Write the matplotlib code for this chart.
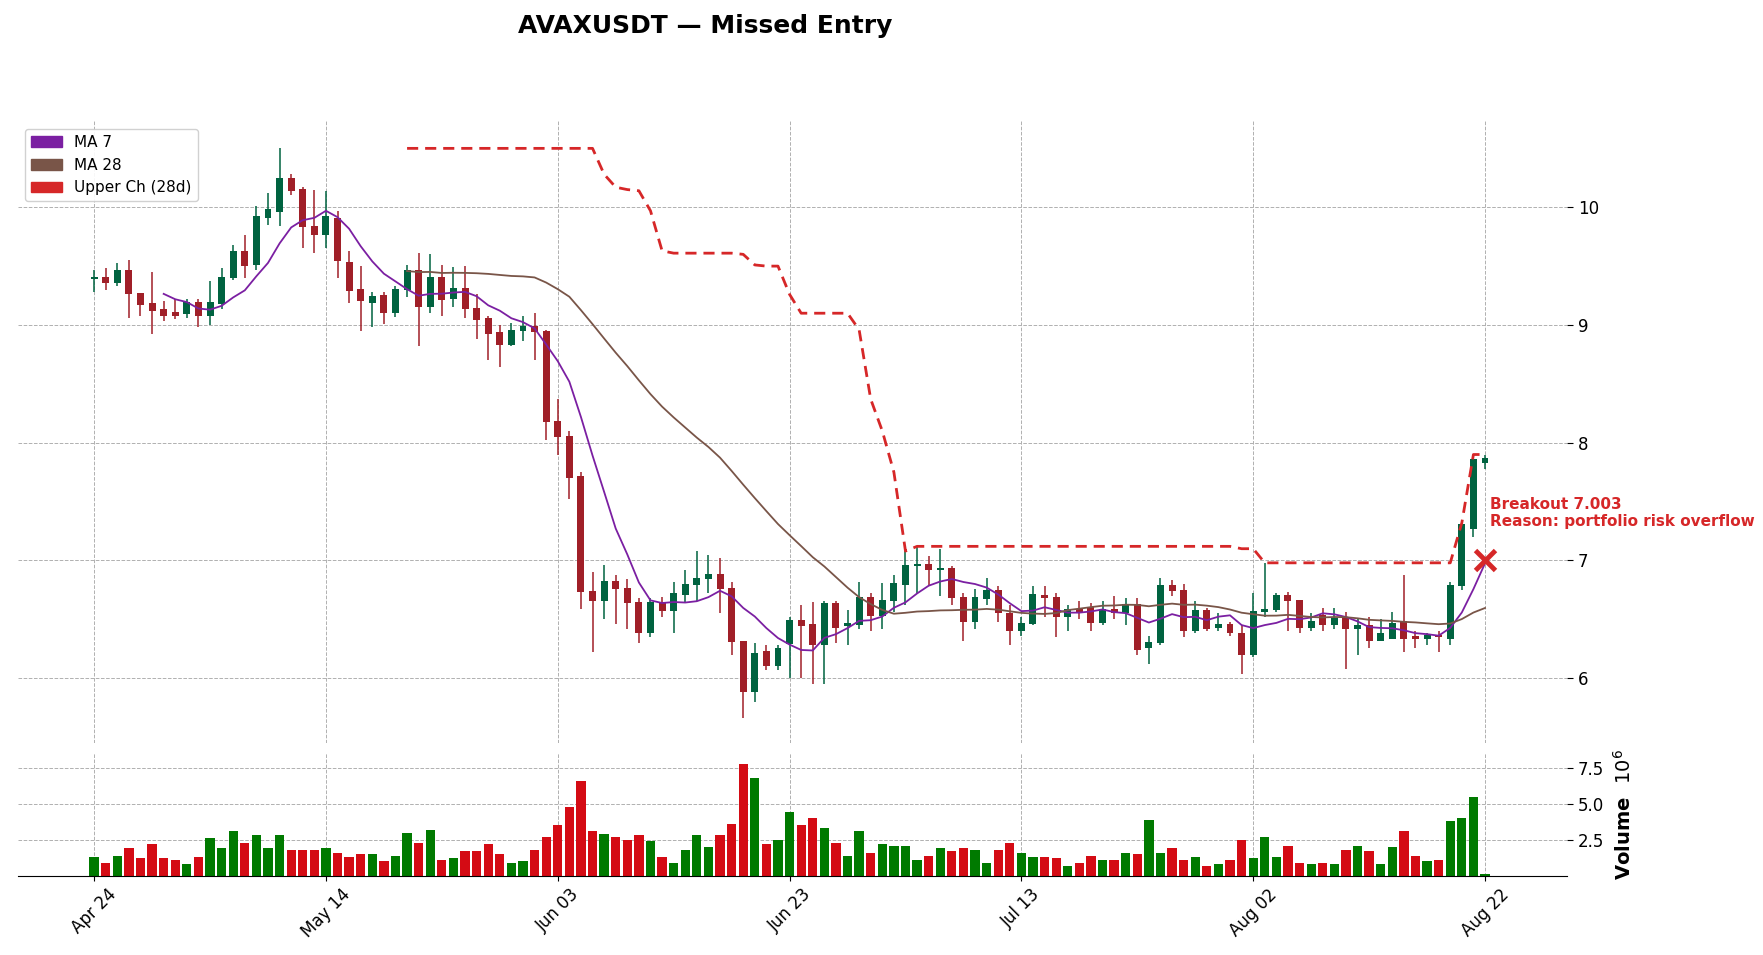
import matplotlib
matplotlib.use("Agg")
import matplotlib.pyplot as plt
import matplotlib.patches as mpatches
import numpy as np
import pandas as pd

dates = pd.date_range("2024-04-24", "2024-08-22", freq="D")
opens = [9.39,9.40,9.36,9.46,9.26,9.18,9.13,9.10,9.09,9.19,9.08,9.18,9.40,9.62,9.51,9.91,9.96,10.24,10.15,9.83,
 9.76,9.90,9.53,9.30,9.19,9.25,9.10,9.30,9.46,9.15,9.40,9.22,9.31,9.14,9.05,8.93,8.83,8.95,8.98,8.94,
 8.18,8.05,7.71,6.73,6.66,6.82,6.76,6.64,6.38,6.64,6.57,6.71,6.79,6.84,6.88,6.76,6.31,5.88,6.22,6.10,
 6.29,6.49,6.45,6.28,6.63,6.44,6.45,6.68,6.53,6.66,6.79,6.95,6.96,6.92,6.93,6.68,6.48,6.67,6.74,6.55,
 6.40,6.46,6.70,6.68,6.52,6.58,6.60,6.47,6.58,6.55,6.62,6.26,6.30,6.78,6.74,6.40,6.57,6.43,6.45,6.38,
 6.20,6.56,6.58,6.70,6.66,6.43,6.53,6.45,6.50,6.42,6.44,6.32,6.33,6.48,6.35,6.33,6.36,6.33,6.78,7.27,7.83]
closes = [9.40,9.36,9.46,9.26,9.17,9.12,9.08,9.08,9.19,9.08,9.19,9.40,9.62,9.50,9.92,9.98,10.24,10.14,9.83,9.76,
 9.92,9.54,9.29,9.20,9.24,9.10,9.30,9.46,9.15,9.40,9.21,9.31,9.14,9.04,8.92,8.83,8.95,8.98,8.94,8.18,
 8.05,7.70,6.73,6.66,6.82,6.76,6.64,6.38,6.64,6.57,6.72,6.79,6.84,6.88,6.76,6.31,5.88,6.21,6.10,6.25,
 6.49,6.44,6.28,6.63,6.43,6.46,6.68,6.53,6.66,6.80,6.95,6.96,6.92,6.93,6.68,6.48,6.68,6.74,6.55,6.40,
 6.46,6.71,6.68,6.52,6.58,6.55,6.47,6.58,6.55,6.62,6.24,6.30,6.78,6.74,6.40,6.57,6.42,6.45,6.38,6.20,
 6.56,6.58,6.70,6.66,6.43,6.48,6.45,6.50,6.42,6.44,6.32,6.38,6.46,6.33,6.33,6.36,6.35,6.78,7.30,7.85,7.86]
highs = [9.47,9.48,9.53,9.55,9.27,9.45,9.20,9.22,9.22,9.22,9.37,9.48,9.68,9.76,10.01,10.12,10.50,10.28,10.17,10.15,
 10.14,9.97,9.63,9.50,9.28,9.28,9.33,9.51,9.61,9.60,9.51,9.49,9.50,9.26,9.08,9.00,9.02,9.08,9.10,8.96,
 8.37,8.10,7.75,6.90,6.96,6.88,6.84,6.68,6.68,6.69,6.82,6.92,7.08,7.05,7.02,6.82,6.31,6.30,6.28,6.28,
 6.52,6.62,6.65,6.66,6.66,6.58,6.82,6.72,6.81,6.88,7.08,7.12,7.04,7.10,6.95,6.72,6.76,6.85,6.78,6.62,
 6.52,6.78,6.78,6.72,6.62,6.66,6.64,6.66,6.70,6.68,6.68,6.36,6.85,6.83,6.80,6.66,6.60,6.55,6.48,6.45,
 6.72,6.98,6.72,6.73,6.66,6.55,6.60,6.60,6.56,6.50,6.52,6.50,6.56,6.88,6.40,6.38,6.40,6.82,7.32,7.90,7.90]
lows = [9.28,9.30,9.33,9.06,9.08,8.92,9.03,9.05,9.06,8.98,9.00,9.14,9.38,9.40,9.47,9.85,9.84,10.10,9.65,9.61,
 9.65,9.40,9.19,8.95,8.98,9.01,9.07,9.24,8.82,9.10,9.08,9.15,9.06,8.88,8.70,8.64,8.82,8.86,8.70,8.02,
 7.90,7.52,6.59,6.22,6.50,6.46,6.42,6.30,6.35,6.52,6.38,6.65,6.66,6.72,6.55,6.20,5.66,5.80,6.07,6.07,
 6.00,6.00,5.95,5.95,6.30,6.28,6.42,6.40,6.42,6.56,6.62,6.72,6.78,6.70,6.62,6.32,6.42,6.62,6.48,6.28,
 6.36,6.45,6.52,6.35,6.40,6.50,6.40,6.45,6.50,6.45,6.20,6.12,6.28,6.70,6.35,6.38,6.40,6.40,6.36,6.04,
 6.18,6.52,6.56,6.40,6.38,6.40,6.40,6.42,6.08,6.20,6.26,6.32,6.35,6.22,6.26,6.28,6.22,6.28,6.75,7.20,7.78]
volumes_m = [1.3,0.9,1.4,1.9,1.2,2.2,1.2,1.1,0.8,1.3,2.6,1.9,3.1,2.3,2.8,1.9,2.8,1.8,1.8,1.8,
 1.9,1.6,1.3,1.5,1.5,1.0,1.4,3.0,2.3,3.2,1.1,1.2,1.7,1.7,2.2,1.5,0.9,1.0,1.8,2.7,
 3.5,4.8,6.6,3.1,2.9,2.7,2.5,2.8,2.4,1.3,0.9,1.8,2.8,2.0,2.8,3.6,7.8,6.8,2.2,2.5,
 4.4,3.5,4.0,3.3,2.3,1.4,3.1,1.6,2.2,2.1,2.1,1.1,1.4,1.9,1.7,1.9,1.8,0.9,1.8,2.3,
 1.6,1.3,1.3,1.2,0.7,0.9,1.4,1.1,1.1,1.6,1.5,3.9,1.6,1.9,1.1,1.3,0.7,0.8,1.1,2.5,
 1.2,2.7,1.3,2.1,0.9,0.8,0.9,0.8,1.8,2.1,1.7,0.8,2.0,3.1,1.4,1.0,1.1,3.8,4.0,5.5,0.1]
tick_labels = ["Apr 24", "May 14", "Jun 03", "Jun 23", "Jul 13", "Aug 02", "Aug 22"]
breakout_price = 7.003

O, C, H, L = map(np.array, (opens, closes, highs, lows))
V = np.array(volumes_m)
x = np.arange(len(dates))
ma7 = pd.Series(C).rolling(7).mean()
ma28 = pd.Series(C).rolling(28).mean()
upper = pd.Series(H).rolling(28).max()

UP, DN = "#006340", "#a01f28"
VUP, VDN = "#007a00", "#d40b14"

fig = plt.figure(figsize=(17.63, 9.55), dpi=100)
ax = fig.add_axes([0.01, 0.222, 0.879, 0.651])
axv = fig.add_axes([0.01, 0.083, 0.879, 0.128], sharex=ax)

up = C >= O
cols = np.where(up, UP, DN)
ax.vlines(x, L, H, colors=cols, linewidth=1.1, zorder=2)
ax.bar(x, np.abs(C - O) + 0.008, bottom=np.minimum(O, C), width=0.6, color=cols, zorder=3)
ax.plot(x, ma7, color="#7b1fa2", lw=1.3, zorder=4)
ax.plot(x, ma28, color="#795548", lw=1.3, zorder=4)
ax.plot(x, upper, color="#d62728", lw=2, ls=(0, (4, 2.5)), zorder=4)
ax.plot(x[-1], breakout_price, marker="x", color="#d62728", ms=14, mew=3.5, zorder=6)
ax.text(x[-1] + 0.4, breakout_price + 0.4, f"Breakout {breakout_price:.3f}\nReason: portfolio risk overflow",
        color="#d62728", fontweight="bold", fontsize=11, va="center", ha="left", clip_on=False, linespacing=1.1)

axv.bar(x, V, width=0.8, color=np.where(up, VUP, VDN))

for a in (ax, axv):
    a.grid(True, ls="--", color="#b0b0b0", lw=0.7)
    a.set_axisbelow(True)
    for s in a.spines.values():
        s.set_visible(False)
    a.yaxis.tick_right()
    a.tick_params(axis="y", labelsize=12, length=4)

ax.set_xlim(-6.6, 127.1)
ax.set_ylim(5.45, 10.73)
ax.set_yticks([6, 7, 8, 9, 10])
ax.tick_params(axis="x", labelbottom=False, length=0)
axv.set_ylim(0, 8.5)
axv.set_yticks([2.5, 5.0, 7.5])
axv.set_yticklabels(["2.5", "5.0", "7.5"])
axv.yaxis.set_label_position("right")
axv.set_ylabel("Volume  $10^6$", fontsize=14, fontweight="bold", labelpad=6)
axv.spines["bottom"].set_visible(True)
tpos = np.arange(0, len(dates), 20)
axv.set_xticks(tpos)
axv.set_xticklabels(tick_labels, rotation=45, fontsize=12)

handles = [mpatches.Patch(color="#7b1fa2", label="MA 7"),
           mpatches.Patch(color="#795548", label="MA 28"),
           mpatches.Patch(color="#d62728", label="Upper Ch (28d)")]
ax.legend(handles=handles, loc="upper left", fontsize=11, framealpha=0.9)
fig.suptitle("AVAXUSDT — Missed Entry", fontsize=18, fontweight="bold", x=0.4, y=0.985)
fig.savefig("out.png", dpi=100)
